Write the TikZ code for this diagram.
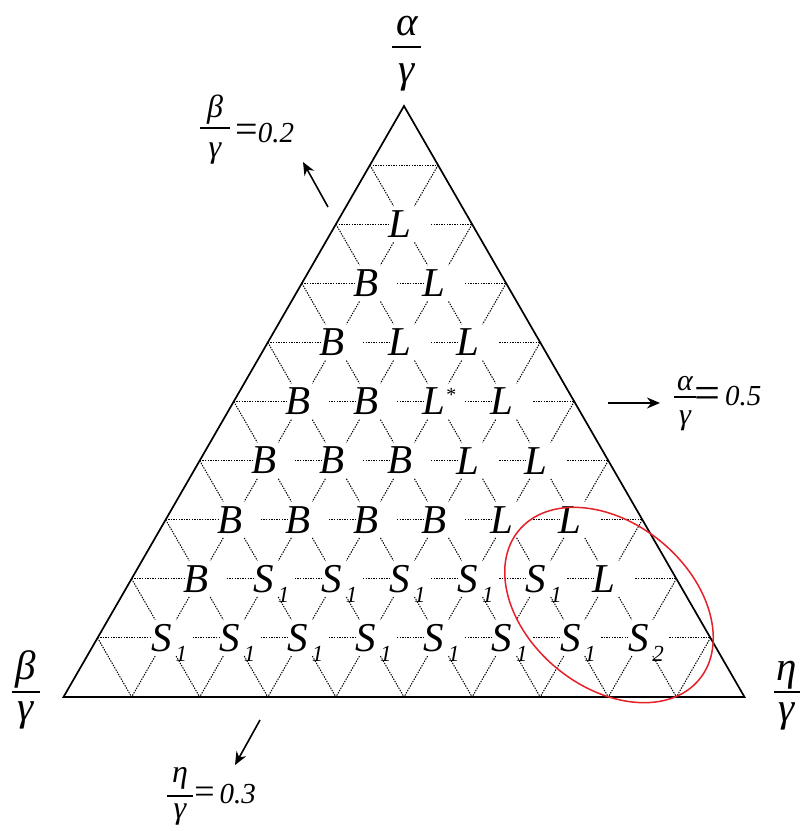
\documentclass[tikz,border=0pt]{standalone}
\usepackage{fontspec}
\setmainfont{Liberation Serif}
\usetikzlibrary{arrows.meta}
\newcommand\Sone{S\rlap{\smash{\raisebox{-5pt}{\fontsize{11.5}{11.5}\selectfont\,1}}}}
\newcommand\Stwo{S\rlap{\smash{\raisebox{-5pt}{\fontsize{11.5}{11.5}\selectfont\,2}}}}
\newcommand\Lstar{L\rlap{\smash{\raisebox{6.5pt}{\fontsize{10}{10}\selectfont *}}}}
\begin{document}
\begin{tikzpicture}[x=0.5pt,y=-0.5pt,
  edge/.style={line width=0.85pt},
  gridline/.style={line width=0.5pt, dash pattern=on 0.7pt off 0.6pt},
  lab/.style={font=\fontsize{20.5}{24}\selectfont\itshape, inner sep=0pt, xshift=-2pt},
  big/.style={font=\fontsize{20.5}{24}\selectfont\itshape, inner sep=0pt, anchor=base},
  small/.style={font=\fontsize{16}{18}\selectfont\itshape, inner sep=0pt, anchor=base},
  num/.style={font=\fontsize{14.5}{16}\selectfont\itshape, inner sep=0pt, anchor=base west},
  bar/.style={line width=0.7pt},
  arr/.style={line width=0.8pt, -{Stealth[length=6.5pt,width=5.5pt]}},
  ring/.style={draw={rgb,255:red,228;green,32;blue,40}, line width=0.75pt}]
\useasboundingbox (0,0) rectangle (802,831);
% lattice
\foreach \k in {0,...,10} {
  \foreach \j in {0,...,\k} {
    \coordinate (p-\k-\j) at ({404+(\j-\k/2)*68.1},{106+\k*59.1});
  }
}
% horizontal grid lines
\foreach \k in {1,...,9} {
  \pgfmathtruncatemacro\km{\k-1}
  \foreach \j in {0,...,\km} {
    \pgfmathtruncatemacro\jn{\j+1}
    \pgfmathsetmacro\sa{(\j>0)?13.5:0}
    \pgfmathsetmacro\sb{(\jn<\k)?7.5:0}
    \draw[gridline, shorten <=\sa pt, shorten >=\sb pt] (p-\k-\j) -- (p-\k-\jn);
  }
}
% diagonal grid lines
\foreach \k in {0,...,9} {
  \pgfmathtruncatemacro\kn{\k+1}
  \foreach \j in {0,...,\k} {
    \pgfmathtruncatemacro\jn{\j+1}
    \pgfmathsetmacro\sa{((\j>0)&&(\j<\k))?10.5:0}
    \ifnum\j>0
      \pgfmathsetmacro\sb{((\j<\kn)&&(\kn<10))?10.5:0}
      \draw[gridline, shorten <=\sa pt, shorten >=\sb pt] (p-\k-\j) -- (p-\kn-\j);
    \fi
    \ifnum\j<\k
      \pgfmathsetmacro\sc{(\kn<10)?10.5:0}
      \draw[gridline, shorten <=\sa pt, shorten >=\sc pt] (p-\k-\j) -- (p-\kn-\jn);
    \fi
  }
}
% triangle
\draw[edge] (p-0-0) -- (p-10-0) -- (p-10-10) -- cycle;
% region labels
\foreach \k/\j/\t in {2/1/L,
  3/1/B, 3/2/L,
  4/1/B, 4/2/L, 4/3/L,
  5/1/B, 5/2/B, 5/3/\Lstar, 5/4/L,
  6/1/B, 6/2/B, 6/3/B, 6/4/L, 6/5/L,
  7/1/B, 7/2/B, 7/3/B, 7/4/B, 7/5/L, 7/6/L,
  8/1/B, 8/2/\Sone, 8/3/\Sone, 8/4/\Sone, 8/5/\Sone, 8/6/\Sone, 8/7/L,
  9/1/\Sone, 9/2/\Sone, 9/3/\Sone, 9/4/\Sone, 9/5/\Sone, 9/6/\Sone, 9/7/\Sone, 9/8/\Stwo} {
  \node[lab] (l-\k-\j) at (p-\k-\j) {\t};
}
% red ellipse
\coordinate (ec) at (609,605);
\draw[ring] (ec) ellipse [x radius=117, y radius=82, rotate=-39.5];
% vertex labels
\node[big] (ta) at (407,35) {α};
\draw[bar] (392,47) -- (421,47);
\node[big] (tg) at (407,82) {γ};
\node[big] (la) at (26,679) {β};
\draw[bar] (12,692) -- (40,692);
\node[big] (lg) at (26,720) {γ};
\node[big] (ra) at (787,680) {η};
\draw[bar] (774,692) -- (800,692);
\node[big] (rg) at (787,721) {γ};
% beta/gamma = 0.2
\node[small] (b2n) at (215,117) {β};
\draw[bar] (200,128) -- (230,128);
\node[small] (b2d) at (215,157) {γ};
\node[num] (b2v) at (235,142) {{\upshape\fontsize{20}{20}\selectfont =}0.2};
\coordinate (b2s) at (328,207);
\coordinate (b2e) at (303,162);
\draw[arr] (b2s) -- (b2e);
% alpha/gamma = 0.5
\node[small, font=\fontsize{15}{17}\selectfont\itshape] (a5n) at (685,390) {α};
\draw[bar] (674,397) -- (696,397);
\node[small, font=\fontsize{15}{17}\selectfont\itshape] (a5d) at (685,424) {γ};
\node[num] (a5v) at (694,405) {\raisebox{-1.5pt}{\upshape\fontsize{23}{23}\selectfont =}\,0.5};
\coordinate (a5s) at (608,403);
\coordinate (a5e) at (660,403);
\draw[arr] (a5s) -- (a5e);
% eta/gamma = 0.3
\node[small] (e3n) at (180,782) {η};
\draw[bar] (167,796) -- (193,796);
\node[small] (e3d) at (180,818) {γ};
\node[num] (e3v) at (194,803) {{\upshape\fontsize{18}{18}\selectfont =}\,0.3};
\coordinate (e3s) at (260,720);
\coordinate (e3e) at (235,765);
\draw[arr] (e3s) -- (e3e);
\end{tikzpicture}
\end{document}
